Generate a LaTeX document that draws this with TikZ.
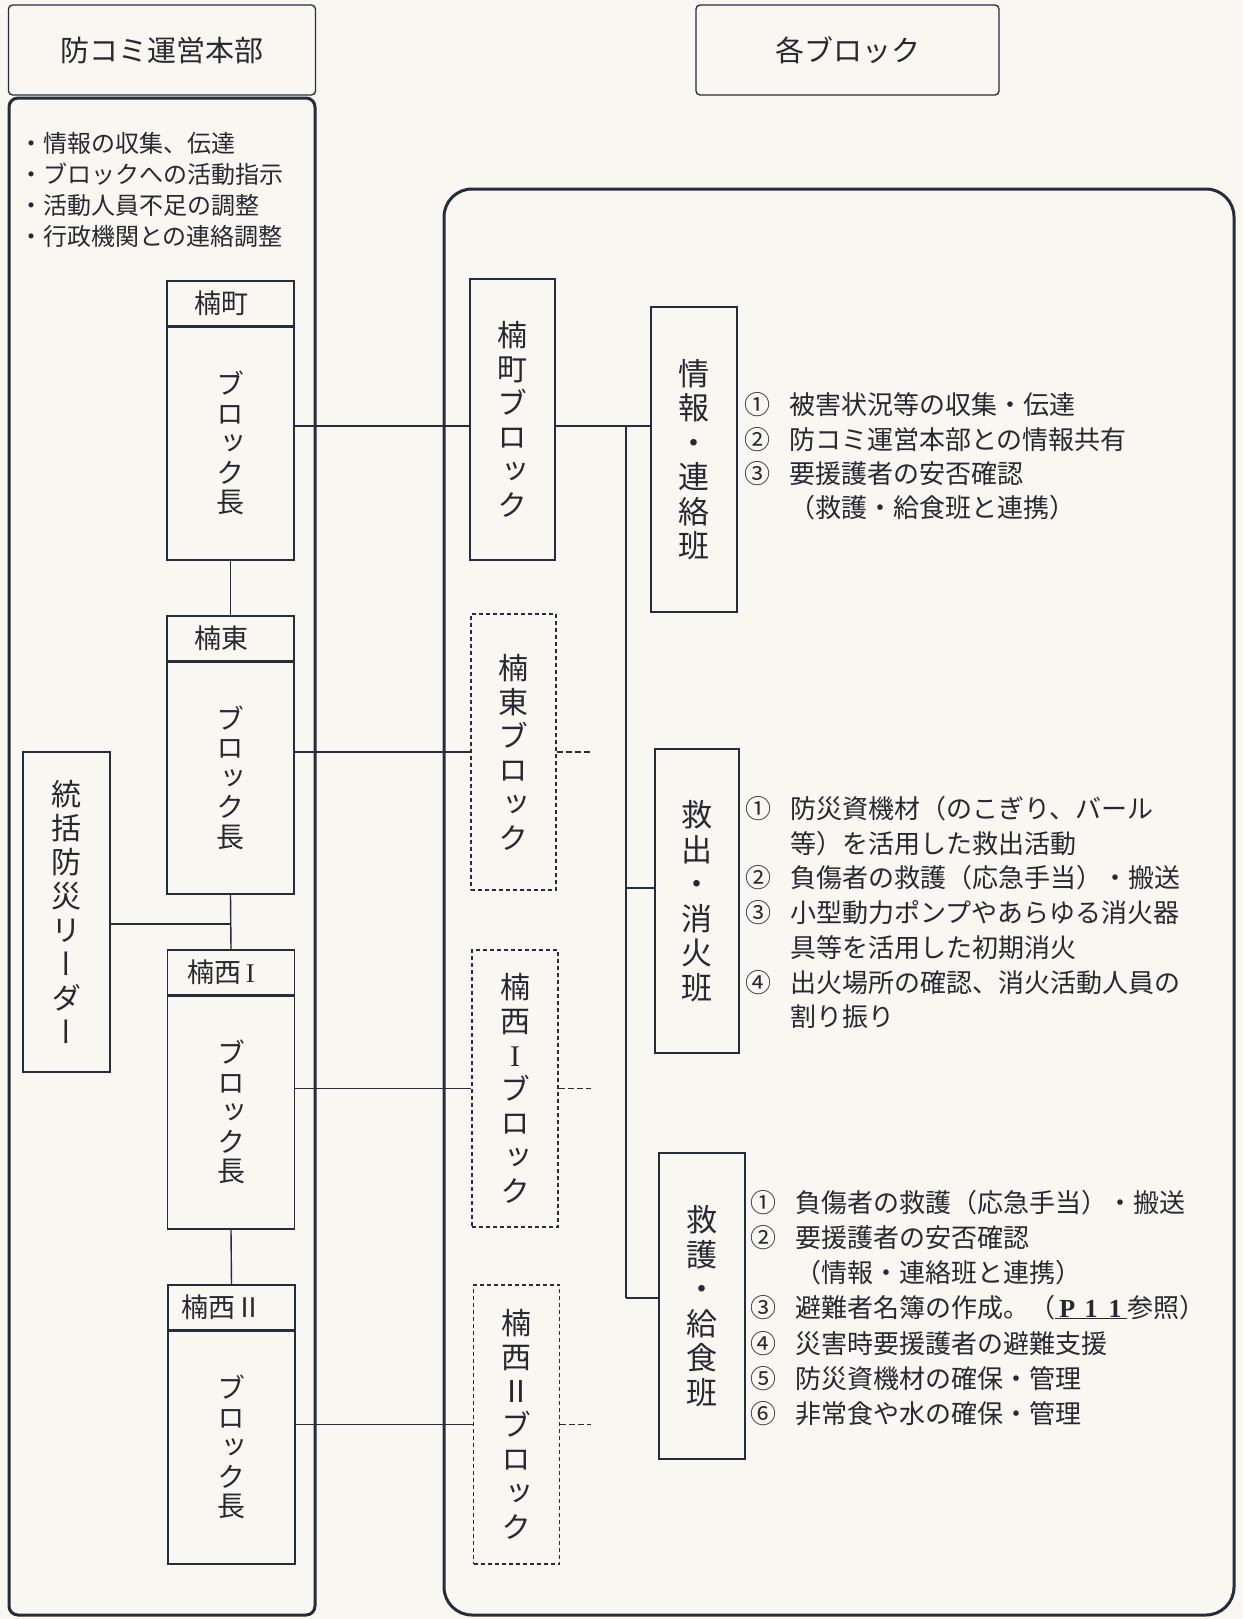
\documentclass[tikz,border=0pt]{standalone}
\usepackage{fontspec}
\setmainfont{Noto Sans CJK JP}
\newfontfamily\vfont{Noto Sans CJK JP}[RawFeature=+vert]
\newfontfamily\hfont{Noto Sans CJK JP}
\newfontfamily\pserif{Liberation Serif}
\definecolor{ink}{RGB}{38,44,58}
\definecolor{txt}{RGB}{40,40,48}
\definecolor{paper}{RGB}{248,247,242}
\newcommand{\itemline}[2]{\makebox[45pt][l]{#1}#2}
\begin{document}
\begin{tikzpicture}[x=1pt,y=-1pt,
  bigline/.style={draw=ink, line width=3pt},
  box/.style={draw=ink, line width=1.4pt, inner sep=0pt},
  dbox/.style={draw=ink, line width=1.2pt, dash pattern=on 4pt off 3pt, inner sep=0pt},
  conn/.style={draw=ink, line width=1.4pt},
  spine/.style={draw=ink, line width=1.8pt},
  stub/.style={draw=ink, line width=1.4pt, dash pattern=on 6pt off 3pt},
  titlebox/.style={draw=ink, line width=1.3pt, rounded corners=4pt, text=txt, font=\fontsize{29}{29}\selectfont},
  bullet/.style={anchor=west, inner sep=0pt, text=txt, font=\fontsize{24}{24}\selectfont, text height=21pt, text depth=3pt},
  hdrtext/.style={inner sep=0pt, text=txt, font=\fontsize{27}{27}\selectfont},
  vbody/.style={font=\vfont\fontsize{28}{29.5}\selectfont, align=center, text=txt},
  vlabel/.style={font=\vfont\fontsize{30}{34}\selectfont, align=center, text=txt},
  vteam/.style={font=\vfont\fontsize{31}{34.5}\selectfont, align=center, text=txt},
  itemtxt/.style={anchor=west, inner sep=0pt, text=txt, font=\fontsize{26}{26}\selectfont, text height=23pt, text depth=3pt}
]
\fill[paper] (0,0) rectangle (1243,1619);
\useasboundingbox (0,0) rectangle (1243,1619);

% titles
\node[titlebox, minimum width=307pt, minimum height=90pt] (hq) at (162,50) {防コミ運営本部};
\node[titlebox, minimum width=303pt, minimum height=90pt] (blk) at (847.5,50) {各ブロック};

% big frames
\draw[bigline, rounded corners=9pt] (9,98) rectangle (315,1615);
\draw[bigline, rounded corners=28pt] (444,189) rectangle (1234,1615);

% bullets
\node[bullet] (t1) at (19,143) {\makebox[24pt]{・}情報の収集、伝達};
\node[bullet] (t2) at (19,174) {\makebox[24pt]{・}ブロックへの活動指示};
\node[bullet] (t3) at (19,205) {\makebox[24pt]{・}活動人員不足の調整};
\node[bullet] (t4) at (19,236) {\makebox[24pt]{・}行政機関との連絡調整};

% block leaders
\node[box, minimum width=127pt, minimum height=45pt] (h1) at (230.5,303.5) {};
\node[hdrtext] (h1t) at (221,303.5) {楠町};
\node[box, vbody, minimum width=127pt, minimum height=234pt] (b1) at (230.5,443) {ブ\\ロ\\ッ\\ク\\長};

\node[box, minimum width=127pt, minimum height=45pt] (h2) at (230.5,638.5) {};
\node[hdrtext] (h2t) at (221,638.5) {楠東};
\node[box, vbody, minimum width=127pt, minimum height=233pt] (b2) at (230.5,777.5) {ブ\\ロ\\ッ\\ク\\長};

\node[box, minimum width=127pt, minimum height=45pt] (h3) at (231,972.5) {};
\node[hdrtext] (h3t) at (221,972.5) {楠西{\pserif\,I}};
\node[box, vbody, minimum width=127pt, minimum height=234pt] (b3) at (231,1112) {ブ\\ロ\\ッ\\ク\\長};

\node[box, minimum width=127pt, minimum height=45pt] (h4) at (231.5,1307.5) {};
\node[hdrtext] (h4t) at (221.5,1307.5) {楠西Ⅱ};
\node[box, vbody, minimum width=127pt, minimum height=234pt] (b4) at (231.5,1447) {ブ\\ロ\\ッ\\ク\\長};

\foreach \h in {h1,h2,h3,h4}{
  \draw[ink, line width=3pt] (\h.south west) -- (\h.south east);
}

% general leader
\node[box, vlabel, minimum width=87pt, minimum height=320pt] (lead) at (66.5,912) {統\\括\\防\\災\\リ\\ー\\ダ\\ー};

% right blocks
\node[box, vlabel, minimum width=85pt, minimum height=281pt] (r1) at (512.5,419.5) {楠\\町\\ブ\\ロ\\ッ\\ク};
\node[dbox, vlabel, minimum width=85pt, minimum height=276pt] (r2) at (513.5,752) {楠\\東\\ブ\\ロ\\ッ\\ク};
\node[dbox, vlabel, minimum width=86pt, minimum height=277pt] (r3) at (515,1088.5) {楠\\西\\{\pserif I}\\ブ\\ロ\\ッ\\ク};
\node[dbox, vlabel, minimum width=86pt, minimum height=279pt] (r4) at (516.5,1424.5) {楠\\西\\{\hfont Ⅱ}\\ブ\\ロ\\ッ\\ク};

% teams
\node[box, vteam, minimum width=86pt, minimum height=305pt] (info) at (694,459.5) {情\\報\\・\\連\\絡\\班};
\node[box, vteam, minimum width=84pt, minimum height=304pt] (rescue) at (697,901) {救\\出\\・\\消\\火\\班};
\node[box, vteam, minimum width=86pt, minimum height=306pt] (aid) at (702,1306) {救\\護\\・\\給\\食\\班};

% connectors left column
\draw[conn] (b1.south) -- (h2.north);
\draw[conn] (b2.south) -- (h3.north);
\draw[conn] (b3.south) -- (h4.north);
\coordinate (c0) at (230.75,924);
\draw[conn] (lead.east |- c0) -- (c0);

% connectors to blocks
\coordinate (k1) at (626,426);
\coordinate (k5) at (626,888);
\coordinate (k6) at (626,1298);
\coordinate (ex) at (591,0);
\draw[conn] (b1.east |- k1) -- (r1.west |- k1);
\draw[conn] (b2.east |- r2.west) -- (r2.west);
\draw[conn] (b3.east |- r3.west) -- (r3.west);
\draw[conn] (b4.east |- r4.west) -- (r4.west);
\draw[stub] (r2.east) -- (r2.east -| ex);
\draw[stub] (r3.east) -- (r3.east -| ex);
\draw[stub] (r4.east) -- (r4.east -| ex);

% spine
\draw[conn] (r1.east |- k1) -- (info.west |- k1);
\draw[spine] (k1) -- (k6);
\draw[conn] (k5) -- (rescue.west |- k5);
\draw[conn] (k6) -- (aid.west |- k6);

% info team items
\node[itemtxt] (i1) at (744,404) {\itemline{①}{被害状況等の収集・伝達}};
\node[itemtxt] (i2) at (744,439) {\itemline{②}{防コミ運営本部との情報共有}};
\node[itemtxt] (i3) at (744,473) {\itemline{③}{要援護者の安否確認}};
\node[itemtxt] (i4) at (744,507) {\itemline{}{（救護・給食班と連携）}};

% rescue team items
\node[itemtxt] (s1) at (745,808) {\itemline{①}{防災資機材（のこぎり、バール}};
\node[itemtxt] (s2) at (745,843) {\itemline{}{等）を活用した救出活動}};
\node[itemtxt] (s3) at (745,877) {\itemline{②}{負傷者の救護（応急手当）・搬送}};
\node[itemtxt] (s4) at (745,912) {\itemline{③}{小型動力ポンプやあらゆる消火器}};
\node[itemtxt] (s5) at (745,947) {\itemline{}{具等を活用した初期消火}};
\node[itemtxt] (s6) at (745,982) {\itemline{④}{出火場所の確認、消火活動人員の}};
\node[itemtxt] (s7) at (745,1016) {\itemline{}{割り振り}};

% aid team items
\node[itemtxt] (a1) at (750,1202) {\itemline{①}{負傷者の救護（応急手当）・搬送}};
\node[itemtxt] (a2) at (750,1237) {\itemline{②}{要援護者の安否確認}};
\node[itemtxt] (a3) at (750,1272) {\itemline{}{（情報・連絡班と連携）}};
\node[itemtxt] (a4) at (750,1307) {\itemline{③}{避難者名簿の作成。（\underline{{\pserif\bfseries\makebox[24pt]{P}\makebox[24pt]{1}\makebox[24pt]{1}}}参照）}};
\node[itemtxt] (a5) at (750,1343) {\itemline{④}{災害時要援護者の避難支援}};
\node[itemtxt] (a6) at (750,1378) {\itemline{⑤}{防災資機材の確保・管理}};
\node[itemtxt] (a7) at (750,1413) {\itemline{⑥}{非常食や水の確保・管理}};
\end{tikzpicture}
\end{document}
